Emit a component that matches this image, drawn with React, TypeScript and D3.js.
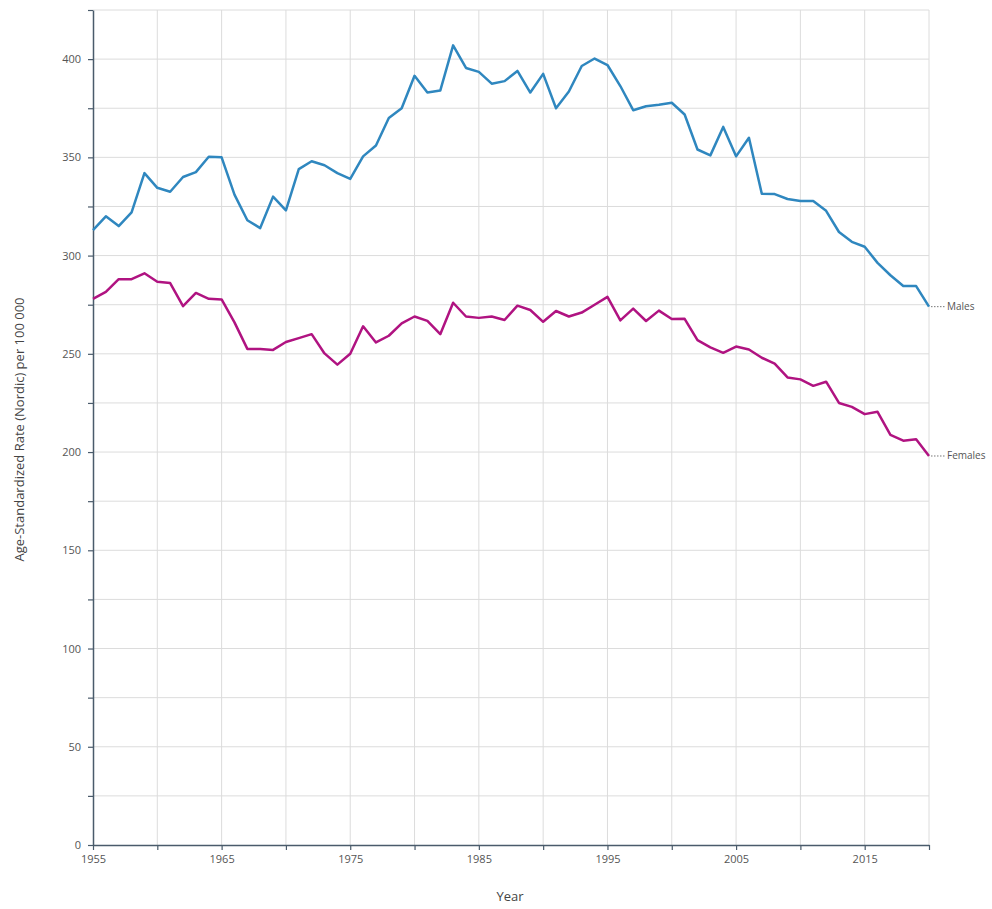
import React, { useEffect, useRef } from 'react';
import * as d3 from 'd3';

const years = d3.range(1955, 2021);

const males = [
  313, 320, 315, 322, 342, 334.5, 332.5, 340, 342.5, 350.3,
  350, 331, 318, 314, 330, 323, 344, 348, 346, 342,
  339, 350.5, 356, 370, 375, 391.5, 383, 384, 407, 395.5,
  393.5, 387.5, 388.8, 394, 383, 392.5, 375, 383.5, 396.5, 400.3,
  397, 386.3, 374, 376, 376.8, 377.8, 371.8, 354, 351, 365.5,
  350.5, 360, 331.5, 331.3, 328.8, 327.8, 327.8, 322.8, 312, 307,
  304.5, 296.3, 290, 284.5, 284.5, 274,
];

const females = [
  278, 281.5, 288, 288, 291, 286.7, 286, 274.3, 281, 278,
  277.7, 266, 252.5, 252.5, 252, 256, 258, 260, 250.2, 244.5,
  250, 264, 255.8, 259.2, 265.5, 269, 266.8, 260, 276, 269,
  268.3, 269, 267.2, 274.5, 272.3, 266.3, 271.8, 269, 271, 275,
  279, 267, 273, 266.7, 272, 267.7, 267.8, 257, 253.3, 250.5,
  253.7, 252.2, 248, 245, 238, 237, 233.7, 235.8, 225, 223,
  219.3, 220.5, 208.7, 205.8, 206.5, 198,
];

const seriesNames = ['Males', 'Females'];
const seriesColors = ['#2f87bf', '#b01381'];

const App: React.FC = () => {
  const svgRef = useRef<SVGSVGElement>(null);

  useEffect(() => {
    if (!svgRef.current) return;
    const width = 992;
    const height = 909;
    const marginLeft = 93;
    const marginRight = 63;
    const marginTop = 10;
    const marginBottom = 64;

    const svg = d3.select(svgRef.current);
    svg.selectAll('*').remove();

    const x = d3.scaleLinear().domain([1955, 2020]).range([marginLeft, width - marginRight]);
    const y = d3.scaleLinear().domain([0, 425]).range([height - marginBottom, marginTop]);

    const yTicks = d3.range(0, 426, 25);
    const xTicks = d3.range(1955, 2021, 5);

    // grid
    const grid = svg.append('g').attr('stroke', '#dcdcdc').attr('stroke-width', 1);
    grid.selectAll('line.h')
      .data(yTicks.filter(t => t > 0))
      .join('line')
      .attr('x1', marginLeft).attr('x2', width - marginRight)
      .attr('y1', d => y(d)).attr('y2', d => y(d));
    grid.selectAll('line.v')
      .data(xTicks.filter(t => t > 1955))
      .join('line')
      .attr('x1', d => x(d)).attr('x2', d => x(d))
      .attr('y1', marginTop).attr('y2', height - marginBottom);

    // y axis
    const yAxis = svg.append('g')
      .attr('transform', `translate(${marginLeft},0)`)
      .call(d3.axisLeft(y).tickValues(yTicks).tickSize(5).tickSizeOuter(0)
        .tickFormat(d => (+d % 50 === 0 ? String(d) : '')));
    yAxis.select('.domain').attr('stroke', '#4a5b6b').attr('stroke-width', 1.5);
    yAxis.selectAll('.tick line').attr('stroke', '#4a5b6b').attr('stroke-width', 1.2);
    yAxis.selectAll('.tick text')
      .attr('fill', '#555').attr('font-size', 11).attr('x', -12)
      .attr('font-family', '"Open Sans", sans-serif');

    // x axis
    const xAxis = svg.append('g')
      .attr('transform', `translate(0,${height - marginBottom})`)
      .call(d3.axisBottom(x).tickValues(xTicks).tickSize(5).tickSizeOuter(0)
        .tickFormat(d => (((+d - 1955) % 10 === 0) ? String(d) : '')));
    xAxis.select('.domain').attr('stroke', '#4a5b6b').attr('stroke-width', 1.5);
    xAxis.selectAll('.tick line').attr('stroke', '#4a5b6b').attr('stroke-width', 1.2);
    xAxis.selectAll('.tick text')
      .attr('fill', '#555').attr('font-size', 11).attr('y', 10)
      .attr('font-family', '"Open Sans", sans-serif');

    // lines
    const line = d3.line<number>()
      .x((_, i) => x(years[i]))
      .y(d => y(d));

    [males, females].forEach((vals, i) => {
      svg.append('path')
        .datum(vals)
        .attr('fill', 'none')
        .attr('stroke', seriesColors[i])
        .attr('stroke-width', 2.5)
        .attr('stroke-linejoin', 'round')
        .attr('d', line);

      const last = vals[vals.length - 1];
      const lx = x(2020);
      svg.append('line')
        .attr('x1', lx + 2).attr('x2', lx + 16)
        .attr('y1', y(last)).attr('y2', y(last))
        .attr('stroke', '#777').attr('stroke-width', 1)
        .attr('stroke-dasharray', '1.5,1.5');
      svg.append('text')
        .attr('x', lx + 18).attr('y', y(last))
        .attr('dy', '0.35em')
        .attr('font-size', 10)
        .attr('fill', '#555')
        .attr('font-family', '"Open Sans", sans-serif')
        .text(seriesNames[i]);
    });

    // axis titles
    svg.append('text')
      .attr('transform', `translate(24,${(marginTop + height - marginBottom) / 2 + 2}) rotate(-90)`)
      .attr('text-anchor', 'middle')
      .attr('font-size', 13)
      .attr('fill', '#444')
      .attr('font-family', '"Open Sans", sans-serif')
      .text('Age-Standardized Rate (Nordic) per 100 000');

    svg.append('text')
      .attr('x', 510).attr('y', 901)
      .attr('text-anchor', 'middle')
      .attr('font-size', 13)
      .attr('fill', '#444')
      .attr('font-family', '"Open Sans", sans-serif')
      .text('Year');
  }, []);

  return (
    <svg
      ref={svgRef}
      width={992}
      height={909}
      style={{ position: 'absolute', left: 0, top: 0, background: '#fff' }}
    />
  );
};

export default App;
